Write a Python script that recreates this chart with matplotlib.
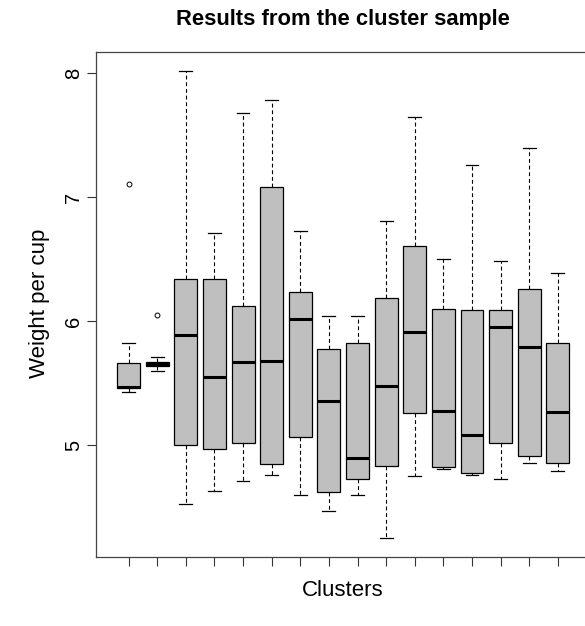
import numpy as np
import matplotlib.pyplot as plt

plt.rcParams['font.family'] = ['Liberation Sans', 'DejaVu Sans']

## values (16 clusters)
clusters = list(range(1, 17))
whisk_lo = [5.43, 5.60, 4.53, 4.63, 4.71, 4.76, 4.60, 4.47, 4.60, 4.25, 4.75, 4.81, 4.76, 4.73, 4.86, 4.79]
q1 = [5.465, 5.643, 5.00, 4.97, 5.015, 4.85, 5.07, 4.62, 4.73, 4.83, 5.26, 4.825, 4.775, 5.015, 4.91, 4.855]
medians = [5.47, 5.656, 5.89, 5.55, 5.67, 5.68, 6.02, 5.36, 4.90, 5.48, 5.91, 5.28, 5.08, 5.95, 5.79, 5.27]
q3 = [5.66, 5.673, 6.34, 6.34, 6.125, 7.085, 6.235, 5.78, 5.825, 6.185, 6.61, 6.10, 6.09, 6.09, 6.26, 5.825]
whisk_hi = [5.825, 5.713, 8.02, 6.71, 7.68, 7.78, 6.73, 6.04, 6.04, 6.81, 7.65, 6.50, 7.26, 6.485, 7.40, 6.39]
outliers = [[7.105], [6.05], [], [], [], [], [], [], [], [], [], [], [], [], [], []]

stats = []
for i in range(len(clusters)):
    stats.append({'whislo': whisk_lo[i], 'q1': q1[i], 'med': medians[i],
                  'q3': q3[i], 'whishi': whisk_hi[i], 'fliers': outliers[i]})

fig = plt.figure(figsize=(5.85, 6.26), dpi=100)
ax = fig.add_axes([96/585, 69/626, 494.4/585, 505/626])

ax.bxp(stats, positions=clusters, widths=0.8, patch_artist=True, capwidths=0.45,
       boxprops=dict(facecolor='#bfbfbf', edgecolor='black', linewidth=0.9),
       medianprops=dict(color='black', linewidth=2.2, solid_capstyle='butt'),
       whiskerprops=dict(color='black', linewidth=0.8, linestyle=(0, (3.5, 2.5))),
       capprops=dict(color='black', linewidth=0.9),
       flierprops=dict(marker='o', markersize=3.5, markerfacecolor='none',
                       markeredgecolor='black', markeredgewidth=0.7))

allv = whisk_lo + whisk_hi + [v for o in outliers for v in o]
lo, hi = min(allv), max(allv)
pad = (hi - lo) * 0.04
ax.set_ylim(lo - pad, hi + pad)
ax.set_xlim(0.5 - 0.64, 16.5 + 0.64)

ax.set_xticks(clusters)
ax.set_xticklabels([])
ax.set_yticks([5, 6, 7, 8])
ax.set_yticklabels(['5', '6', '7', '8'], rotation=90, va='center', fontsize=14.5)
ax.tick_params(axis='both', direction='out', length=6.5, width=0.8, color='#333333', pad=3)
for s in ax.spines.values():
    s.set_linewidth(0.9)
    s.set_color('#444444')

fig.text(343/585, 1 - 19/626, "Results from the cluster sample", ha='center', va='center',
         fontsize=15.8, fontweight='bold')
fig.text(343/585, 1 - 590/626, "Clusters", ha='center', va='center', fontsize=16)
fig.text(40/585, 1 - 303/626, "Weight per cup", ha='center', va='center', rotation=90, fontsize=16)

plt.savefig('out.png', dpi=100)
